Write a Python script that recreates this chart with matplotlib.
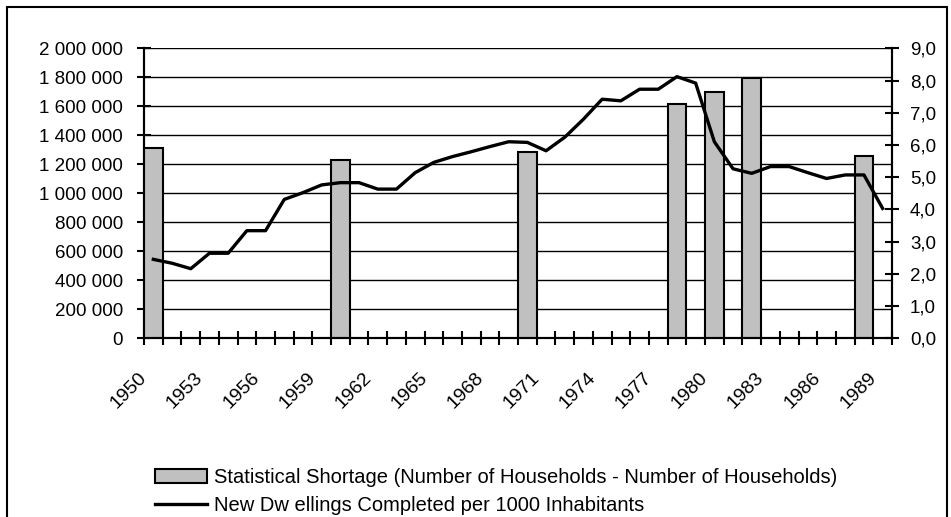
import numpy as np
import matplotlib
matplotlib.use('Agg')
import matplotlib.pyplot as plt
from matplotlib.patches import Rectangle, Patch
from matplotlib.lines import Line2D
from matplotlib.ticker import FuncFormatter
from matplotlib.transforms import ScaledTranslation

plt.rcParams['font.family'] = ['Liberation Sans', 'DejaVu Sans']

# years on the category axis
years = list(range(1950, 1990))

# statistical shortage (left axis), only some years
shortage_years = [1950, 1960, 1970, 1978, 1980, 1982, 1988]
shortage_values = [1312000, 1228000, 1285000, 1616000, 1699000, 1795000, 1255000]

# new dwellings completed per 1000 inhabitants (right axis)
dwellings = [2.45, 2.33, 2.16, 2.64, 2.64, 3.34, 3.34, 4.31, 4.52, 4.76,
             4.83, 4.83, 4.63, 4.63, 5.14, 5.46, 5.64, 5.79, 5.95, 6.10,
             6.08, 5.82, 6.24, 6.80, 7.42, 7.37, 7.73, 7.73, 8.12, 7.92,
             6.10, 5.26, 5.12, 5.33, 5.33, 5.14, 4.96, 5.07, 5.07, 4.03]

shortage_label = 'Statistical Shortage (Number of Households - Number of Households)'
dwellings_label = 'New Dw ellings Completed per 1000 Inhabitants'

W, H = 951, 517
fig = plt.figure(figsize=(W / 100, H / 100), dpi=100)
ax = fig.add_axes([144 / W, 1 - 338.3 / H, (892 - 144) / W, (338.3 - 48.3) / H])
ax2 = ax.twinx()

x = np.arange(len(years))
bar_pos = [years.index(y) for y in shortage_years]

# bars
ax.bar(bar_pos, shortage_values, width=1.0, color='#c0c0c0',
       edgecolor='black', linewidth=1.5, zorder=3)
ax.set_ylim(0, 2000000)
ax.set_yticks(np.arange(0, 2000001, 200000))
ax.yaxis.set_major_formatter(FuncFormatter(lambda v, p: '{:,.0f}'.format(v).replace(',', ' ')))
ax.grid(axis='y', color='black', linewidth=1.0, zorder=0)
ax.set_axisbelow(True)

# line
ax2.plot(x, dwellings, color='black', linewidth=2.4, zorder=4)
ax2.set_ylim(0, 9)
ax2.set_yticks(np.arange(0, 9.1, 1))
ax2.yaxis.set_major_formatter(FuncFormatter(lambda v, p: '{:.1f}'.format(v).replace('.', ',')))

ax.set_xlim(-0.5, len(years) - 0.5)
ax.set_xticks(np.arange(-0.5, len(years), 1))
ax.set_xticklabels([])
ax.set_xticks(x[::3], minor=True)
ax.set_xticklabels([str(y) for y in years[::3]], minor=True, rotation=45,
                   ha='right', va='top', rotation_mode='anchor')
ax.tick_params(axis='x', which='minor', length=0, pad=22, labelsize=14)
ax.tick_params(axis='x', which='major', direction='inout', length=10, width=1.5)
ax.tick_params(axis='y', direction='inout', length=10, width=1.5, labelsize=13.5, pad=10)
ax2.tick_params(axis='y', direction='inout', length=10, width=1.5, labelsize=13.5, pad=8)

# shift the rotated year labels a bit to the left, like the original
shift = ScaledTranslation(-15 / 100, 0, fig.dpi_scale_trans)
for lab in ax.get_xticklabels(minor=True):
    lab.set_transform(lab.get_transform() + shift)

for a in (ax, ax2):
    a.spines['top'].set_visible(False)
    for s in ('left', 'right', 'bottom'):
        a.spines[s].set_linewidth(1.5)

# legend
handles = [Patch(facecolor='#c0c0c0', edgecolor='black', linewidth=1.5),
           Line2D([0], [0], color='black', linewidth=2.4)]
fig.legend(handles, [shortage_label, dwellings_label], loc='upper left',
           bbox_to_anchor=(155 / W, 1 - 468 / H), frameon=False, fontsize=14.5,
           handlelength=2.6, handleheight=0.7, handletextpad=0.35,
           labelspacing=0.45, borderaxespad=0, borderpad=0)

# chart area border
fig.add_artist(Rectangle((7 / W, -0.05), (947 - 7) / W, 1.05 - 7 / H,
                         transform=fig.transFigure, fill=False,
                         edgecolor='black', linewidth=1.5))

fig.savefig('out.png', dpi=100)
plt.close(fig)
